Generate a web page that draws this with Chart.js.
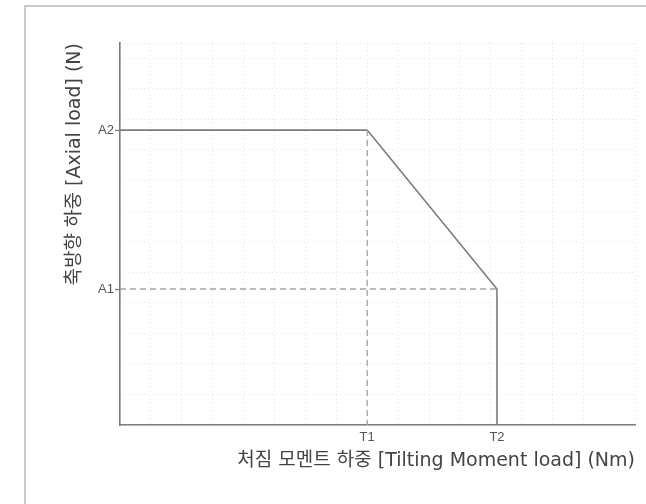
<!DOCTYPE html>
<html lang="ko">
<head>
<meta charset="UTF-8">
<title>축방향 하중 - 처짐 모멘트 하중</title>
<script src="https://cdn.jsdelivr.net/npm/chart.js"></script>
<style>
    html, body { margin: 0; padding: 0; background: #fff; }
    #wrap { position: relative; width: 646px; height: 504px; overflow: hidden; }
    /* 바깥 테두리 (왼쪽, 위쪽만 보임) */
    #frame { position: absolute; left: 24px; top: 5px; width: 700px; height: 600px;
             border-left: 2px solid #c9c9c9; border-top: 2px solid #c9c9c9; }
    #loadChart { position: absolute; left: 0; top: 0; }
</style>
</head>
<body>
<div id="wrap">
    <div id="frame"></div>
    <canvas id="loadChart" width="646" height="504"></canvas>
</div>
<script>
    // 축 눈금 (값은 그림에서 읽은 상대 위치, 0~100)
    const tLabels = ['T1', 'T2'];
    const tValues = [48, 73.2];
    const aLabels = ['A1', 'A2'];
    const aValues = [35.6, 77.2];

    const TICK_FONT = '"Liberation Sans", "Noto Sans CJK KR", sans-serif';
    const TITLE_FONT = '"DejaVu Sans", "Noto Sans CJK KR", sans-serif';
    const lineColor = '#7b7b7b';
    const dashColor = '#a3a3a3';

    // 허용 하중 곡선: (0,A2) -> (T1,A2) -> (T2,A1) -> (T2,0)
    const envelope = [
        { x: 0, y: aValues[1] },
        { x: tValues[0], y: aValues[1] },
        { x: tValues[1], y: aValues[0] },
        { x: tValues[1], y: 0 }
    ];
    // 보조 점선
    const guideA1 = [{ x: 0, y: aValues[0] }, { x: tValues[1], y: aValues[0] }];
    const guideT1 = [{ x: tValues[0], y: aValues[1] }, { x: tValues[0], y: 0 }];

    // 배경 점선 격자용 보조 축
    const gridAxis = (axis) => ({
        type: 'linear',
        axis: axis,
        position: axis === 'x' ? 'bottom' : 'left',
        min: 0,
        max: 100,
        ticks: { display: false, stepSize: axis === 'x' ? 6 : 8 },
        grid: { color: 'rgba(0,0,0,0.11)', lineWidth: 1, drawTicks: false },
        border: { display: false, dash: [1, 3] },
        afterFit: s => { if (axis === 'x') s.height = 0; else s.width = 0; }
    });

    new Chart(document.getElementById('loadChart'), {
        type: 'scatter',
        data: {
            datasets: [
                { data: guideA1, showLine: true, borderColor: dashColor, borderWidth: 1.3, borderDash: [6, 4], pointRadius: 0 },
                { data: guideT1, showLine: true, borderColor: dashColor, borderWidth: 1.3, borderDash: [6, 4], pointRadius: 0 },
                { data: envelope, showLine: true, borderColor: lineColor, borderWidth: 1.6, pointRadius: 0, tension: 0 }
            ]
        },
        options: {
            responsive: false,
            animation: false,
            layout: { padding: { left: 60, top: 43, right: 11, bottom: 28 } },
            plugins: { legend: { display: false }, tooltip: { enabled: false } },
            scales: {
                x: {
                    type: 'linear',
                    min: 0,
                    max: 100,
                    afterBuildTicks: s => { s.ticks = tValues.map(v => ({ value: v })); },
                    afterFit: s => { s.height = 51; },
                    ticks: {
                        callback: (v, i) => tLabels[i],
                        font: { family: TICK_FONT, size: 13 },
                        color: '#555',
                        padding: 5,
                        maxRotation: 0
                    },
                    grid: { drawOnChartArea: false, drawTicks: false },
                    border: { display: true, color: lineColor, width: 1.6 },
                    title: {
                        display: true,
                        text: '처짐 모멘트 하중 [Tilting Moment load] (Nm)',
                        align: 'end',
                        font: { family: TITLE_FONT, size: 19 },
                        color: '#444'
                    }
                },
                y: {
                    type: 'linear',
                    min: 0,
                    max: 100,
                    afterBuildTicks: s => { s.ticks = aValues.map(v => ({ value: v })); },
                    afterFit: s => { s.width = 60; },
                    ticks: {
                        callback: (v, i) => aLabels[i],
                        font: { family: TICK_FONT, size: 13 },
                        color: '#555',
                        padding: 1
                    },
                    grid: { drawOnChartArea: false, drawTicks: true, tickLength: 5, tickColor: lineColor, tickWidth: 1.3 },
                    border: { display: true, color: lineColor, width: 1.6 },
                    title: {
                        display: true,
                        text: '축방향 하중 [Axial load] (N)',
                        align: 'end',
                        font: { family: TITLE_FONT, size: 19 },
                        color: '#444'
                    }
                },
                xg: gridAxis('x'),
                yg: gridAxis('y')
            }
        }
    });
</script>
</body>
</html>
